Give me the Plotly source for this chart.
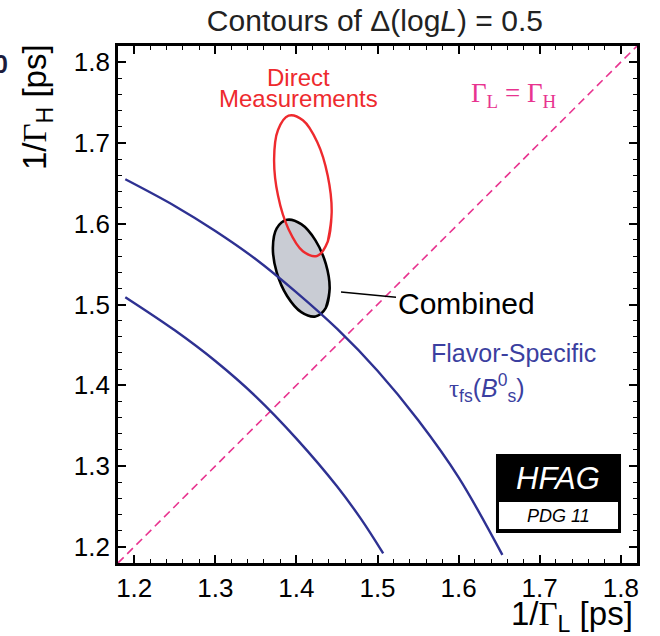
import plotly.graph_objects as go

# ---- data ----
# Flavor-specific tau_fs(Bs) band (two contours), 1/Gamma_L vs 1/Gamma_H [ps]
outer_x = [1.189, 1.25, 1.30, 1.35, 1.40, 1.45, 1.50, 1.55, 1.60, 1.654]
outer_y = [1.655, 1.622, 1.591, 1.556, 1.515, 1.470, 1.418, 1.357, 1.286, 1.190]
inner_x = [1.189, 1.25, 1.30, 1.35, 1.40, 1.45, 1.48, 1.507]
inner_y = [1.509, 1.468, 1.430, 1.386, 1.334, 1.275, 1.234, 1.192]

# Direct measurements contour (red)
direct_x = [1.4435, 1.4387, 1.4258, 1.4080, 1.3903, 1.3773, 1.3725, 1.3773,
            1.3903, 1.4080, 1.4258, 1.4387]
direct_y = [1.6142, 1.5780, 1.5603, 1.5659, 1.5931, 1.6348, 1.6798, 1.7160,
            1.7337, 1.7281, 1.7009, 1.6592]

# Combined contour (grey, black outline)
comb_x = [1.4410, 1.4363, 1.4235, 1.4060, 1.3885, 1.3757, 1.3710, 1.3757,
          1.3885, 1.4060, 1.4235, 1.4363]
comb_y = [1.5196, 1.4958, 1.4852, 1.4906, 1.5106, 1.5398, 1.5704, 1.5942,
          1.6048, 1.5994, 1.5794, 1.5502]

# Gamma_L = Gamma_H line
diag_x = [1.18, 1.82]
diag_y = [1.18, 1.82]

tick_vals = [1.2, 1.3, 1.4, 1.5, 1.6, 1.7, 1.8]
tick_text = ["1.2", "1.3", "1.4", "1.5", "1.6", "1.7", "1.8"]

BLUE = "#2E3192"
BLUE_TXT = "#3B3FA0"
RED = "#EE2A2E"
MAG = "#E8338F"
SANS = "Liberation Sans, Arial, Helvetica, sans-serif"
SERIF = "Liberation Serif, Times New Roman, serif"


def closed(a):
    return list(a) + [a[0], a[1]]


fig = go.Figure()

fig.add_trace(go.Scatter(x=diag_x, y=diag_y, mode="lines",
                         line=dict(color=MAG, width=1.6, dash="8px,5px"),
                         hoverinfo="skip", showlegend=False))
fig.add_trace(go.Scatter(x=closed(comb_x), y=closed(comb_y), mode="lines",
                         fill="toself", fillcolor="#C9CCD4",
                         line=dict(color="black", width=2.6, shape="spline", smoothing=1.0),
                         showlegend=False))
fig.add_trace(go.Scatter(x=closed(direct_x), y=closed(direct_y), mode="lines",
                         line=dict(color=RED, width=2.4, shape="spline", smoothing=1.0),
                         showlegend=False))
fig.add_trace(go.Scatter(x=outer_x, y=outer_y, mode="lines",
                         line=dict(color=BLUE, width=2.4, shape="spline"),
                         showlegend=False))
fig.add_trace(go.Scatter(x=inner_x, y=inner_y, mode="lines",
                         line=dict(color=BLUE, width=2.4, shape="spline"),
                         showlegend=False))

axis_common = dict(
    range=[1.18, 1.82], tickvals=tick_vals, ticktext=tick_text,
    ticks="inside", ticklen=8, tickwidth=1.6, tickcolor="black",
    showline=True, linecolor="black", linewidth=2.6, mirror="ticks",
    showgrid=False, zeroline=False,
    tickfont=dict(family=SANS, size=26, color="black"),
    minor=dict(dtick=0.02, tick0=1.2, ticks="inside", ticklen=4,
               tickwidth=1.4, tickcolor="black", showgrid=False),
)

fig.update_layout(
    width=660, height=636,
    margin=dict(l=118, r=23, t=46, b=73),
    paper_bgcolor="white", plot_bgcolor="white",
    xaxis=dict(**axis_common),
    yaxis=dict(**axis_common),
    title=dict(text="Contours of \u0394(log<i>L</i>) = 0.5",
               x=0.568, xanchor="center", y=0.968, yanchor="middle",
               font=dict(family=SANS, size=30, color="#222222")),
    showlegend=False,
)

ann = []
# axis titles
ann.append(dict(xref="paper", yref="paper", x=0.997, y=-0.103, xanchor="right",
                yanchor="middle", showarrow=False,
                text="1/<span style='font-family:Liberation Serif'>\u0393</span><sub>L</sub> [ps]",
                font=dict(family=SANS, size=33, color="black")))
ann.append(dict(xref="paper", yref="paper", x=-0.156, y=0.882, xanchor="center",
                yanchor="middle", showarrow=False, textangle=-90,
                text="1/<span style='font-family:Liberation Serif'>\u0393</span><sub>H</sub> [ps]",
                font=dict(family=SANS, size=33, color="black")))
# cut-off glyph at left edge
ann.append(dict(xref="paper", yref="paper", x=-0.208, y=0.965, xanchor="right",
                yanchor="middle", showarrow=False, text="<b>0</b>",
                font=dict(family=SANS, size=25, color="#1C1C3C")))
# Direct measurements
ann.append(dict(x=1.402, y=1.7816, showarrow=False, text="Direct",
                font=dict(family=SANS, size=24, color=RED)))
ann.append(dict(x=1.402, y=1.7544, showarrow=False, text="Measurements",
                font=dict(family=SANS, size=24, color=RED)))
# Gamma_L = Gamma_H
ann.append(dict(x=1.6683, y=1.7593, showarrow=False,
                text="\u0393<sub>L</sub> = \u0393<sub>H</sub>",
                font=dict(family=SERIF, size=27, color=MAG)))
# Combined with leader line
ann.append(dict(x=1.455, y=1.5155, ax=125, ay=12, axref="pixel", ayref="pixel",
                showarrow=True, arrowhead=0, arrowwidth=1.3, arrowcolor="black",
                text="Combined", font=dict(family=SANS, size=30, color="black")))
# Flavor-specific label
ann.append(dict(x=1.6683, y=1.440, showarrow=False, text="Flavor-Specific",
                font=dict(family=SANS, size=25, color=BLUE_TXT)))
ann.append(dict(x=1.635, y=1.3966, showarrow=False,
                text="<span style='font-family:Liberation Serif'>\u03c4</span><sub>fs</sub>(<i>B</i><sup>0</sup><sub>s</sub>)",
                font=dict(family=SANS, size=25, color=BLUE_TXT)))
# HFAG logo text
ann.append(dict(xref="paper", yref="paper", x=0.8478, y=0.1644, xanchor="center",
                yanchor="middle", showarrow=False,
                text="<i>HFAG</i>", font=dict(family=SANS, size=31, color="white")))
ann.append(dict(xref="paper", yref="paper", x=0.8478, y=0.0909, xanchor="center",
                yanchor="middle", showarrow=False,
                text="<i>PDG 11</i>", font=dict(family=SANS, size=18, color="black")))

fig.update_layout(annotations=ann)

fig.add_shape(type="rect", xref="paper", yref="paper", x0=0.7283, x1=0.9692,
              y0=0.058, y1=0.2108, fillcolor="black", line=dict(width=0), layer="above")
fig.add_shape(type="rect", xref="paper", yref="paper", x0=0.7341, x1=0.9634,
              y0=0.0658, y1=0.118, fillcolor="white", line=dict(width=0), layer="above")

fig.write_html("out.html")
